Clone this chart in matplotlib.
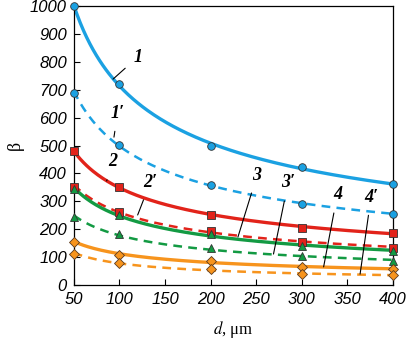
import numpy as np
import matplotlib.pyplot as plt

# tick labels are italic sans; other texts override the style
plt.rcParams['font.family'] = 'Liberation Sans'
plt.rcParams['font.style'] = 'italic'
plt.rcParams['font.size'] = 12
plt.rcParams['mathtext.fontset'] = 'stix'

d = np.array([50, 100, 200, 300, 400])

beta_1 = [1000, 720, 500, 422, 361]
beta_1p = [690, 502, 360, 289, 256]
beta_2 = [481, 350, 251, 205, 188]
beta_2p = [353, 263, 195, 155, 134]
beta_3 = [343, 251, 183, 140, 123]
beta_3p = [243, 182, 131, 104, 87]
beta_4 = [155, 109, 87, 66, 56]
beta_4p = [112, 80, 56, 38, 36]

x_ticks = [50, 100, 150, 200, 250, 300, 350, 400]
y_ticks = [0, 100, 200, 300, 400, 500, 600, 700, 800, 900, 1000]

blue = '#1ba1e2'
red = '#e2231a'
green = '#139a43'
orange = '#f7941d'

series = [
    (beta_1, blue, 'o', '-'),
    (beta_1p, blue, 'o', '--'),
    (beta_2, red, 's', '-'),
    (beta_2p, red, 's', '--'),
    (beta_3, green, '^', '-'),
    (beta_3p, green, '^', '--'),
    (beta_4, orange, 'D', '-'),
    (beta_4p, orange, 'D', '--'),
]

# label text, text position, leader end point (data coords)
labels = [
    ("1", (120, 817), (93, 738)),
    ("1′", (98, 616), (94, 530)),
    ("2", (93, 441), (86, 373)),
    ("2′", (134, 369), (120, 251)),
    ("3", (251, 394), (230, 172)),
    ("3′", (285, 366), (269, 111)),
    ("4", (339, 323), (324, 65)),
    ("4′", (376, 315), (364, 39)),
]

fig = plt.figure(figsize=(4.08, 3.44), dpi=100)
ax = fig.add_axes([0.181, 0.1715, 0.782, 0.811])

dd = np.linspace(50, 400, 200)
for vals, c, m, ls in series:
    v = np.array(vals, dtype=float)
    # power-law fit for the smooth curve
    b, a = np.polyfit(np.log(d), np.log(v), 1)
    lw = 2.4 if ls == '-' else 1.8
    line_ls = '-' if ls == '-' else (0, (3.5, 2.5))
    ax.plot(dd, np.exp(a) * dd ** b, color=c, lw=lw, ls=line_ls, zorder=2)
    ms = {'o': 5.5, 's': 5.5, '^': 6, 'D': 5}[m]
    ax.plot(d, v, ls='none', marker=m, ms=ms, mfc=c, mec='#5a3a20' if c == orange else '#333333',
            mew=0.6, zorder=3, clip_on=False)

for txt, (tx, ty), (ex, ey) in labels:
    ax.annotate(txt, xy=(ex, ey), xytext=(tx, ty), ha='center', va='center',
                fontsize=13, fontweight='bold', fontstyle='italic', family='Liberation Serif',
                arrowprops=dict(arrowstyle='-', color='black', lw=0.8, shrinkA=5, shrinkB=0))

ax.set_xlim(50, 400)
ax.set_ylim(0, 1000)
ax.set_xticks(x_ticks)
ax.set_yticks(y_ticks)
ax.tick_params(direction='in', length=4, width=0.8, top=False, right=False, pad=5, labelsize=12)
for sp in ax.spines.values():
    sp.set_linewidth(0.9)

ax.set_xlabel(r'$d$, μm', family='Liberation Serif', fontstyle='normal', fontsize=12, labelpad=9)
ax.set_ylabel('β', family='Liberation Serif', fontstyle='normal', fontsize=13, labelpad=4)

fig.savefig('out.png', dpi=100)
